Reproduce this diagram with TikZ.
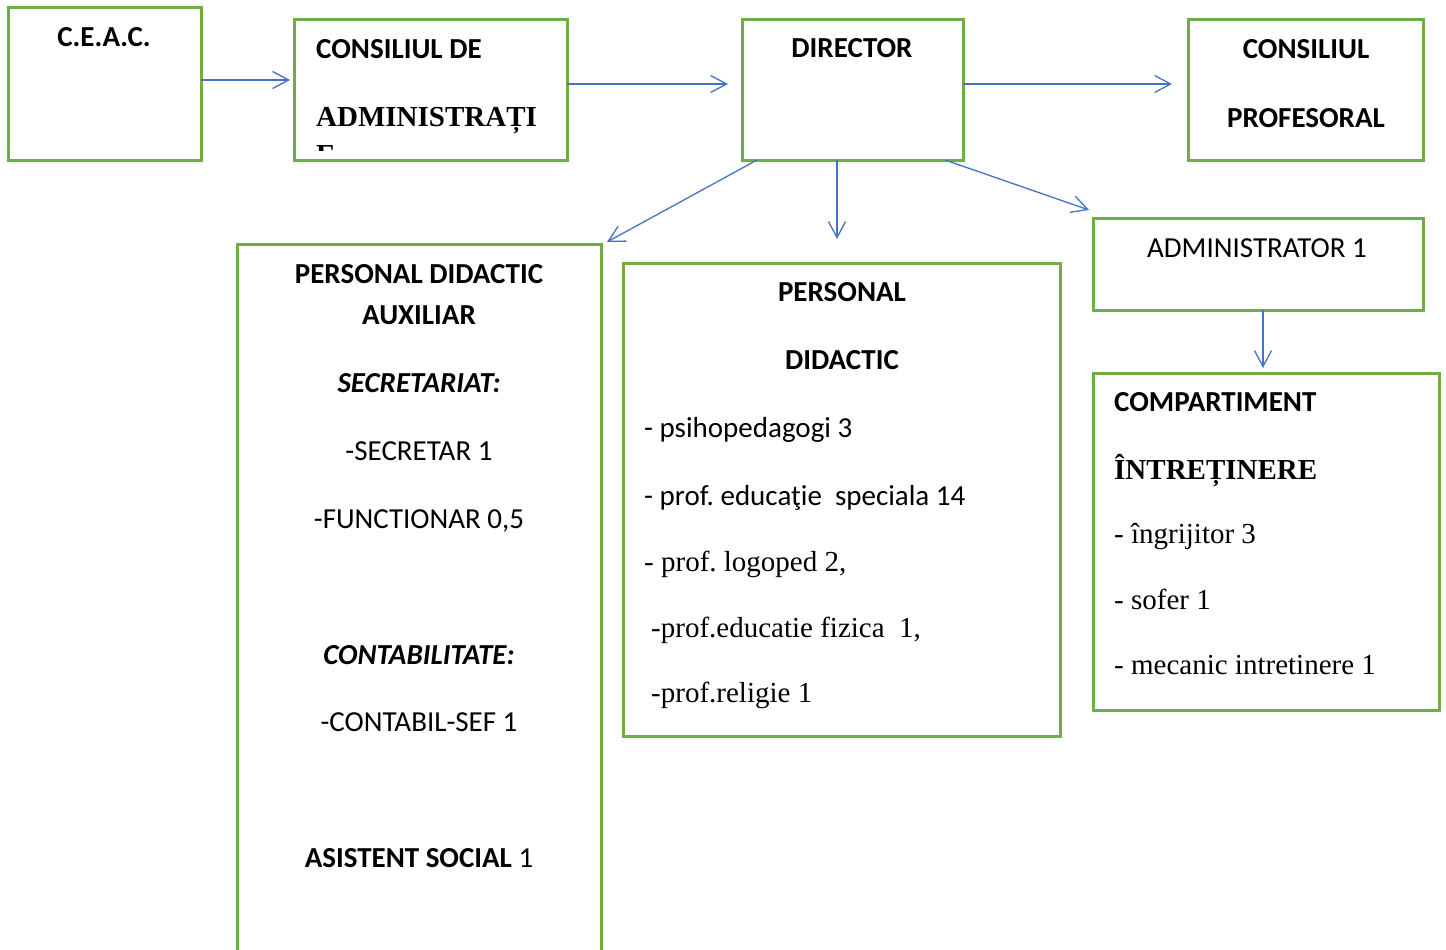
\documentclass[tikz,border=0pt]{standalone}
\usepackage{fontspec}
\setmainfont{Liberation Serif}
\newfontfamily\calibri{Carlito}
\usetikzlibrary{arrows.meta}
\definecolor{boxgreen}{HTML}{70AD47}
\definecolor{linkblue}{HTML}{4472C4}
\frenchspacing
\tikzset{
  box/.style={draw=boxgreen, line width=3pt, inner sep=0pt, outer sep=0pt},
  link/.style={draw=linkblue, line width=1.3pt, -{Straight Barb[length=16pt, width=17pt]}},
  cal/.style={inner sep=0pt, anchor=base, font=\calibri\fontsize{29}{35}\selectfont},
  calb/.style={inner sep=0pt, anchor=base, font=\calibri\bfseries\fontsize{29}{35}\selectfont},
  calbi/.style={inner sep=0pt, anchor=base, font=\calibri\bfseries\itshape\fontsize{29}{35}\selectfont},
  tms/.style={inner sep=0pt, anchor=base west, font=\fontsize{29}{35}\selectfont},
  tmsb/.style={inner sep=0pt, anchor=base west, font=\bfseries\fontsize{29}{35}\selectfont},
}
\begin{document}
\begin{tikzpicture}[x=1pt, y=-1pt]
    	\clip (0,0) rectangle (1446,950);
    	\node[box, minimum width=193pt, minimum height=152pt] (ceac) at (104.5,84) {};
    	\node[box, minimum width=273pt, minimum height=140pt] (consadm) at (430.5,90) {};
    	\node[box, minimum width=221pt, minimum height=140pt] (director) at (852.5,90) {};
    	\node[box, minimum width=235pt, minimum height=140pt] (consprof) at (1305.5,90) {};
    	\node[box, minimum width=364pt, minimum height=760pt] (pda) at (419,624) {};
    	\node[box, minimum width=437pt, minimum height=473pt] (pd) at (841.5,499.5) {};
    	\node[box, minimum width=330pt, minimum height=92pt] (admin) at (1258,264) {};
    	\node[box, minimum width=346pt, minimum height=337pt] (compint) at (1266,541.5) {};

    	\node[calb] (tceac) at (104,47) {C.E.A.C.};
    	\node[calb, anchor=base west] (tconsadm1) at (316,59) {CONSILIUL DE};
    	\node[tmsb] (tconsadm2) at (316,126) {ADMINISTRAȚI};
    	\begin{scope}
    	\clip (294,20) rectangle (567,150);
    	\node[tmsb] (tconsadm3) at (316,164) {E};
    	\end{scope}
    	\node[calb] (tdirector) at (852,58) {DIRECTOR};
    	\node[calb] (tconsprof1) at (1306,59) {CONSILIUL};
    	\node[calb] (tconsprof2) at (1306,127) {PROFESORAL};

    	\node[calb] (tpda1) at (419,283) {PERSONAL DIDACTIC};
    	\node[calb] (tpda2) at (419,324) {AUXILIAR};
    	\node[calbi] (tpda3) at (419,392) {SECRETARIAT:};
    	\node[cal] (tpda4) at (419,460) {-SECRETAR 1};
    	\node[cal] (tpda5) at (419,528) {-FUNCTIONAR 0,5};
    	\node[calbi] (tpda6) at (419,664) {CONTABILITATE:};
    	\node[cal] (tpda7) at (419,731) {-CONTABIL-SEF 1};
    	\node[cal] (tpda8) at (419,867) {\textbf{ASISTENT SOCIAL} 1};

    	\node[calb] (tpd1) at (842,301) {PERSONAL};
    	\node[calb] (tpd2) at (842,369) {DIDACTIC};
    	\node[cal, anchor=base west] (tpd3) at (644,437) {- psihopedagogi 3};
    	\node[cal, anchor=base west] (tpd4) at (644,505) {- prof. educaţie\ \ speciala 14};
    	\node[tms] (tpd5) at (644,571) {- prof. logoped 2,};
    	\node[tms] (tpd6) at (651,637) {-prof.educatie fizica\ \ 1,};
    	\node[tms] (tpd7) at (651,702) {-prof.religie 1};

    	\node[cal] (tadmin) at (1257,257) {ADMINISTRATOR 1};
    	\node[calb, anchor=base west] (tcompint1) at (1114,411) {COMPARTIMENT};
    	\node[tmsb] (tcompint2) at (1114,479) {ÎNTREȚINERE};
    	\node[tms] (tcompint3) at (1114,543) {- îngrijitor 3};
    	\node[tms] (tcompint4) at (1114,609) {- sofer 1};
    	\node[tms] (tcompint5) at (1114,674) {- mecanic intretinere 1};

    	\coordinate (dirl) at ([xshift=-95.5pt]director.south);
    	\coordinate (dirm) at ([xshift=-15.5pt]director.south);
    	\coordinate (dirr) at ([xshift=-18pt]director.south east);
    	\coordinate (admout) at ([xshift=5pt]admin.south);
    	\draw[link, shorten >=4pt]  ([yshift=4pt]ceac.east) -- ([yshift=10pt]consadm.west);
    	\draw[link, shorten >=14pt] ([yshift=6pt]consadm.east) -- ([yshift=6pt]director.west);
    	\draw[link, shorten >=16pt] ([yshift=6pt]director.east) -- ([yshift=6pt]consprof.west);
    	\draw[link] (dirl) -- ([xshift=6pt, yshift=2pt]pda.north east);
    	\draw[link, shorten >=24pt] (dirm) -- (dirm |- pd.north);
    	\draw[link] (dirr) -- ([xshift=-4pt, yshift=8pt]admin.north west);
    	\draw[link, shorten >=5pt]  (admout) -- (admout |- compint.north);
\end{tikzpicture}
\end{document}
